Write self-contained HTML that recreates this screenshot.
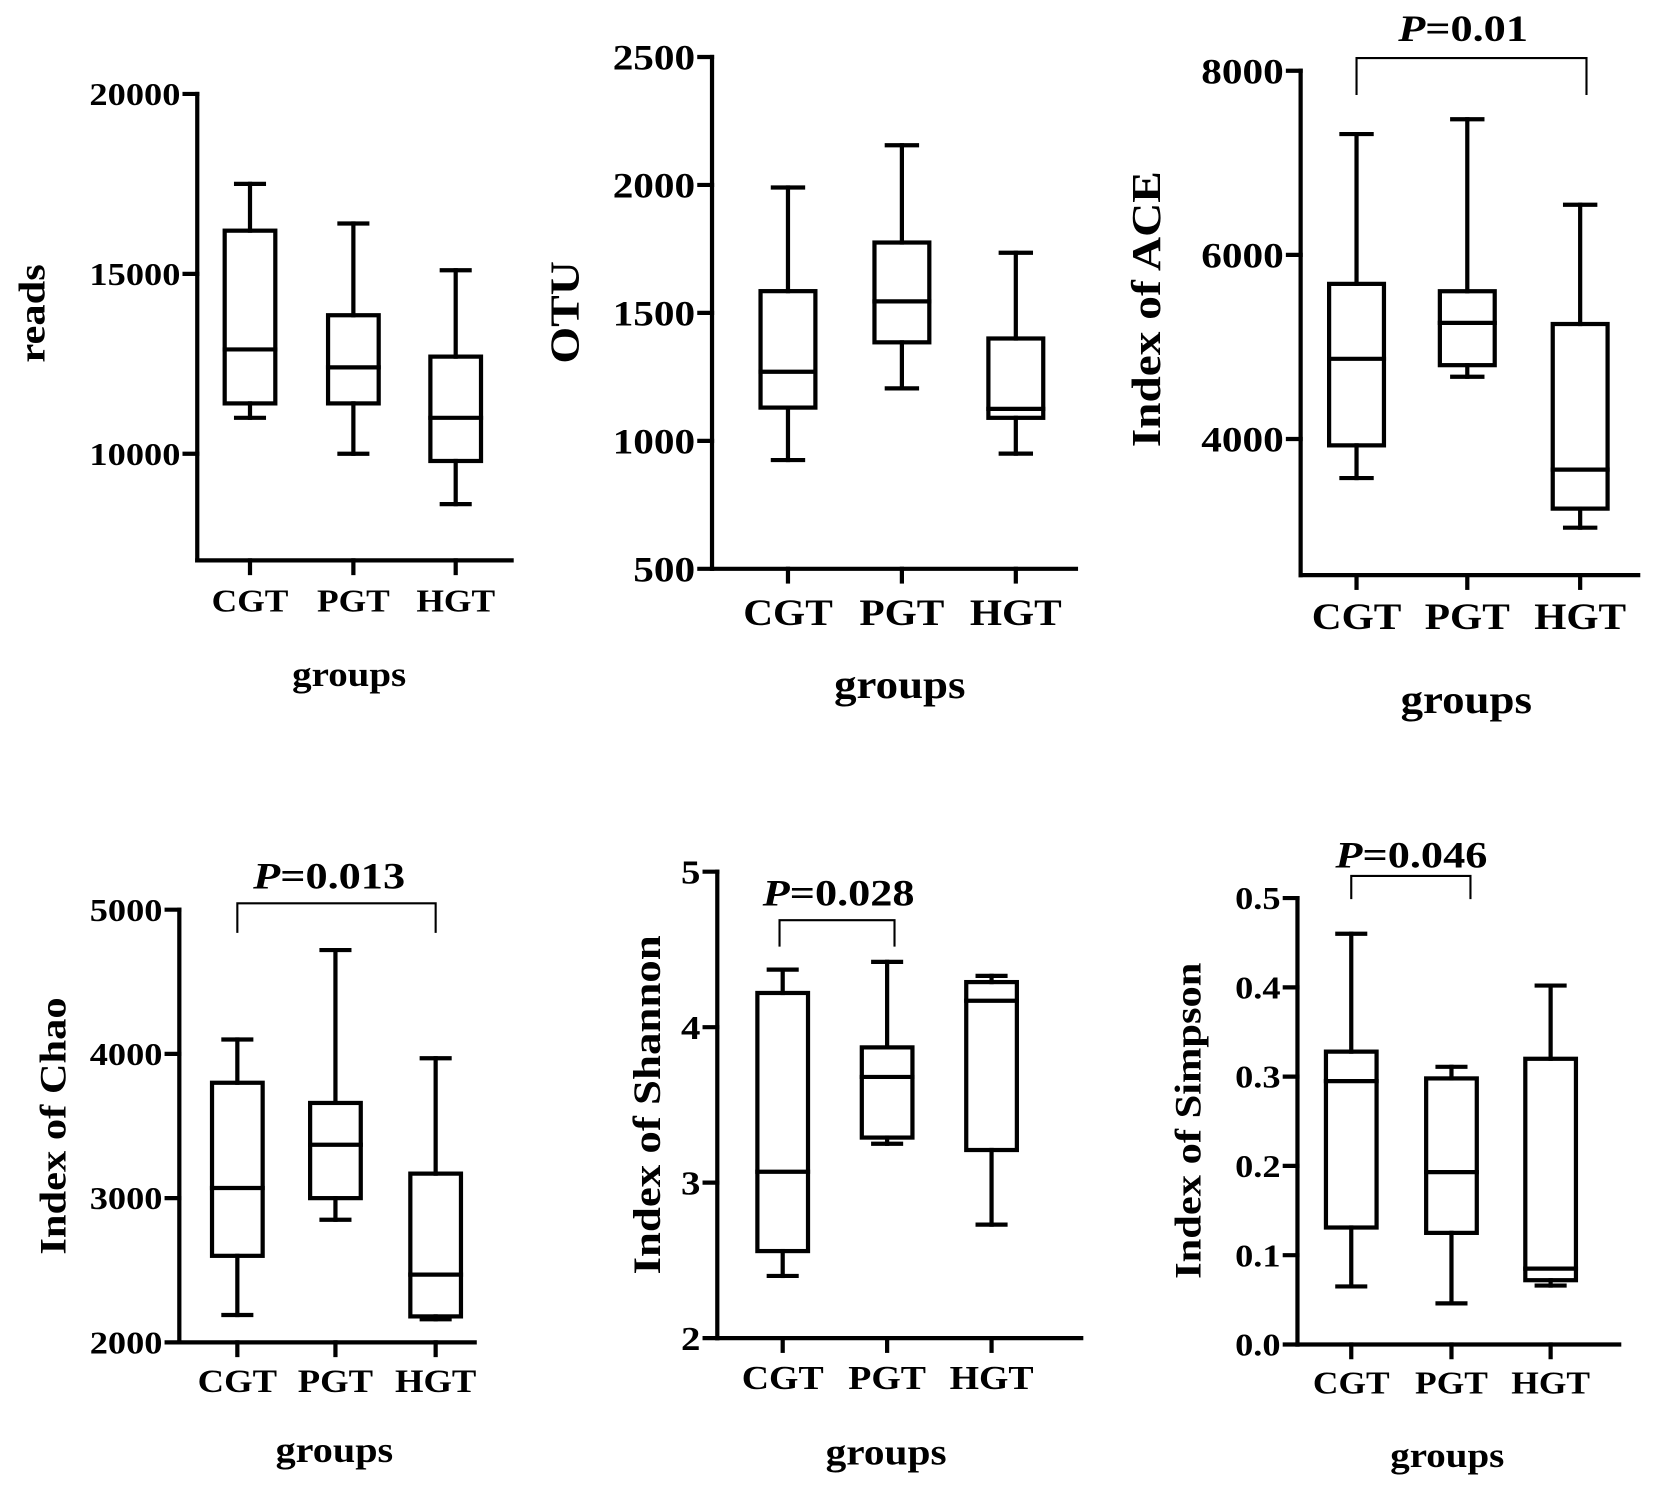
<!DOCTYPE html>
<html><head><meta charset="utf-8"><style>
html,body{margin:0;padding:0;background:#fff}
svg{display:block}
text{font-family:"Liberation Serif",serif;font-weight:bold;fill:#000}
</style></head><body>
<svg id="c" width="1654" height="1488" viewBox="0 0 1568 1410" preserveAspectRatio="none" xmlns="http://www.w3.org/2000/svg"></svg>
<script>
const categories = ["CGT","PGT","HGT"];
// [min, q1, median, q3, max]
const readsData = [[11000,11400,12900,16200,17500],[10000,11400,12400,13850,16400],[8600,9800,11000,12700,15100]];
const otuData = [[925,1130,1270,1585,1990],[1205,1385,1545,1775,2155],[950,1090,1125,1400,1735]];
const aceData = [[3576,3931,4871,5685,7312],[4676,4802,5261,5605,7473],[3037,3244,3668,5249,6544]];
const chaoData = [[2190,2600,3070,3800,4100],[2850,3000,3370,3660,4720],[2160,2180,2470,3170,3970]];
const shannonData = [[2.40,2.56,3.07,4.22,4.37],[3.25,3.29,3.68,3.87,4.42],[2.73,3.21,4.17,4.29,4.33]];
const simpsonData = [[0.065,0.131,0.295,0.328,0.46],[0.046,0.125,0.193,0.298,0.311],[0.066,0.072,0.085,0.32,0.402]];
const readsTicks = [10000,15000,20000];
const otuTicks = [500,1000,1500,2000,2500];
const aceTicks = [4000,6000,8000];
const chaoTicks = [2000,3000,4000,5000];
const shannonTicks = [2,3,4,5];
const simpsonTicks = ["0.0","0.1","0.2","0.3","0.4","0.5"];

const panels = [
 {name:"reads",data:readsData,ticks:readsTicks,ax:187,v0:10000,y0:430,v1:20000,y1:89,yb:531,xr:485,cx:[237,335,432],bw:48,cat:30,lab:569,gx:331,gy:641,yl:"reads",ylx:30,yly:297,fs:30},
 {name:"otu",data:otuData,ticks:otuTicks,ax:675,v0:500,y0:539,v1:2500,y1:54,yb:539,xr:1020,cx:[747,855,963],bw:52,cat:35,lab:580,gx:853,gy:651,yl:"OTU",ylx:535,yly:296,fs:34},
 {name:"ace",data:aceData,ticks:aceTicks,ax:1233,v0:4000,y0:416,v1:8000,y1:67,yb:545,xr:1553,cx:[1286,1391,1498],bw:52,cat:35,lab:584,gx:1390,gy:665,yl:"Index of ACE",ylx:1086,yly:293,fs:34,p:{t:"0.01",x1:1286,x2:1504,y:55,yd:90,tx:1387,ty:27}},
 {name:"chao",data:chaoData,ticks:chaoTicks,ax:170,v0:2000,y0:1272,v1:5000,y1:862,yb:1272,xr:450,cx:[225,318,413],bw:48,cat:31,lab:1308,gx:317,gy:1376,yl:"Index of Chao",ylx:50,yly:1067,fs:30,p:{t:"0.013",x1:225,x2:413,y:856,yd:884,tx:312,ty:830}},
 {name:"shannon",data:shannonData,ticks:shannonTicks,ax:680,v0:2,y0:1268,v1:5,y1:826,yb:1268,xr:1025,cx:[742,841,940],bw:48,cat:32,lab:1305,gx:840,gy:1378,yl:"Index of Shannon",ylx:613,yly:1047,fs:32,p:{t:"0.028",x1:739,x2:848,y:872,yd:897,tx:795,ty:846}},
 {name:"simpson",data:simpsonData,ticks:simpsonTicks,ax:1230,v0:0,y0:1274,v1:0.5,y1:851,yb:1274,xr:1535,cx:[1281,1376,1470],bw:48,cat:30,lab:1310,gx:1372,gy:1381,yl:"Index of Simpson",ylx:1126,yly:1062,fs:30,p:{t:"0.046",x1:1281,x2:1394,y:830,yd:852,tx:1338,ty:810}}
];
const svg = document.getElementById('c');
const NS = "http://www.w3.org/2000/svg";
function mk(tag, attrs, parent){const e=document.createElementNS(NS,tag);for(const k in attrs)e.setAttribute(k,attrs[k]);parent.appendChild(e);return e;}
function line(g,x1,y1,x2,y2){return mk('line',{x1:x1,y1:y1,x2:x2,y2:y2,stroke:'#000','stroke-width':4,'stroke-linecap':'square'},g);}
function txt(g,x,y,s,size,anchor,sx,rot){
  let tr='translate('+x+','+y+')';
  if(rot) tr+=' rotate(-90)';
  tr+=' scale('+sx+',1)';
  const t=mk('text',{x:0,y:0,'text-anchor':anchor,'font-size':size,transform:tr},g);
  t.textContent=s;
  return t;
}

panels.forEach(P=>{
  const g = mk('g',{},svg);
  
  
  const y = v => P.y0 + (parseFloat(v)-P.v0)/(P.v1-P.v0)*(P.y1-P.y0);
  const topY = y(P.ticks[P.ticks.length-1]);
  const ya = line(g,P.ax,Math.min(topY,P.y1),P.ax,P.yb);
  
  
  const xa = line(g,P.ax,P.yb,P.xr,P.yb);
  
  
  P.ticks.forEach(t=>{
    const ty=y(t);
    line(g,P.ax-12,ty,P.ax,ty);
    const tx=txt(g,P.ax-16,ty+P.fs*0.35,String(t),P.fs,'end',1.15,false);
    
    
  });
  P.data.forEach((d,i)=>{
    const cx=P.cx[i], h=P.bw/2, c=h*0.55;
    const bg=mk('g',{},g);
    
    
    line(bg,cx,y(d[4]),cx,y(d[3]));
    line(bg,cx,y(d[1]),cx,y(d[0]));
    line(bg,cx-c,y(d[4]),cx+c,y(d[4]));
    line(bg,cx-c,y(d[0]),cx+c,y(d[0]));
    mk('rect',{x:cx-h,y:y(d[3]),width:2*h,height:y(d[1])-y(d[3]),fill:'none',stroke:'#000','stroke-width':4},bg);
    line(bg,cx-h,y(d[2]),cx+h,y(d[2]));
    line(bg,cx,P.yb,cx,P.yb+12);
    const cl=txt(g,cx,P.lab+P.cat*0.35,categories[i],P.cat,'middle',1.12,false);
    
    
  });
  const gt=txt(g,P.gx,P.gy+P.cat*0.3,'groups',P.cat+3,'middle',1.12,false);
  
  
  const yt=txt(g,P.ylx+P.fs*0.4,P.yly,P.yl,P.fs+5,'middle',1.15,true);
  
  
  if(P.p){
    const q=P.p;
    const br=mk('path',{d:'M'+q.x1+','+q.yd+' V'+q.y+' H'+q.x2+' V'+q.yd,fill:'none',stroke:'#000','stroke-width':2},g);
    
    
    const pt=mk('text',{x:0,y:0,'text-anchor':'middle','font-size':35,transform:'translate('+q.tx+','+(q.ty+12)+') scale(1.2,1)'},g);
    const it=mk('tspan',{'font-style':'italic'},pt);
    it.textContent='P';
    const rest=mk('tspan',{},pt);
    rest.textContent='='+q.t;
    
    
  }
});
</script>
</body></html>
